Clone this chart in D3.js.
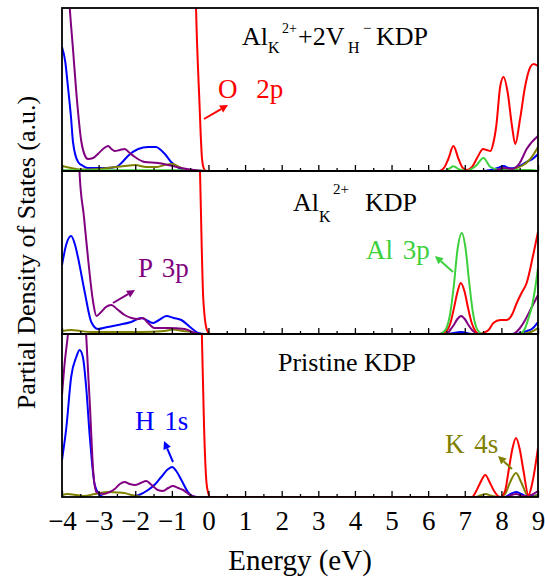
<!DOCTYPE html>
<html>
<head>
<meta charset="utf-8">
<script src="https://cdn.jsdelivr.net/npm/d3@7"></script>
<style>
  body { margin: 0; background: #fff; }
  text { font-family: "Liberation Serif", "Times New Roman", serif; }
</style>
</head>
<body>
<svg id="chart" width="545" height="577"></svg>
<script>
// Energy axis (eV)
const energyTicks = [-4, -3, -2, -1, 0, 1, 2, 3, 4, 5, 6, 7, 8, 9];
const energyMinorTicks = [-3.5, -2.5, -1.5, -0.5, 0.5, 1.5, 2.5, 3.5, 4.5, 5.5, 6.5, 7.5, 8.5];

// ---- Al_K(2+) + 2V_H(-) KDP : [energy, PDOS (a.u.)] ----
const alvhO2p = [[-4,400],[-0.45,400],[-0.34,164],[-0.25,72],[-0.175,12],[-0.12,2],[-0.05,0],[6.3,0],[6.45,4],[6.55,12],[6.69,25],[6.83,12],[6.95,3],[7.06,1],[7.2,4],[7.35,14],[7.5,22],[7.6,21],[7.7,20],[7.78,28],[7.86,45],[7.97,85],[8.06,94],[8.17,79],[8.29,45],[8.38,27],[8.51,52],[8.65,85],[8.79,104],[8.88,107],[9.0,105]];
const alvhP3p = [[-4,500],[-3.85,200],[-3.79,164],[-3.7,122],[-3.61,79],[-3.47,29],[-3.38,16],[-3.29,12],[-3.15,13],[-3.02,17],[-2.88,22],[-2.74,25],[-2.65,22],[-2.56,20],[-2.42,21],[-2.29,22],[-2.15,18],[-2.01,14],[-1.74,9],[-1.38,8],[-1.1,6],[-0.75,3],[-0.28,0.5],[0,0],[7.8,0],[8.06,3],[8.3,2],[8.5,8],[8.69,22],[9.0,35]];
const alvhH1s = [[-4,124],[-3.91,109],[-3.84,85],[-3.75,52],[-3.7,29],[-3.56,9],[-3.42,5],[-3.29,3],[-2.8,3],[-2.52,4],[-2.35,9],[-2.2,15],[-1.92,22],[-1.65,24],[-1.43,24],[-1.3,21],[-1.19,17],[-1.02,9],[-0.75,2],[-0.5,0],[7.5,0],[7.7,1],[7.9,3],[8.06,5],[8.2,3],[8.3,2.7],[8.5,5],[8.69,9],[8.85,12],[9.0,17]];
const alvhK4s = [[-4,5],[-3.75,3],[-3.5,1.5],[-3.0,2],[-2.74,3],[-2.3,5],[-2.0,6],[-1.7,4],[-1.4,4],[-1.2,6],[-0.97,7],[-0.8,4],[-0.6,1],[-0.4,0],[7.8,0],[8.06,2],[8.3,2],[8.55,5],[8.79,12],[9.0,24]];
const alvhAl3p = [[-4,0.8],[-0.5,0.8],[0,0],[6.45,0],[6.58,2.5],[6.69,4.7],[6.85,1.5],[7.05,0],[7.3,5],[7.51,13],[7.7,4],[7.9,1.5],[8.3,1],[8.8,1],[9.0,0]];

// ---- Al_K(2+) KDP ----
const alO2p = [[-4,400],[-0.4,400],[-0.23,161],[-0.14,34],[-0.04,4],[0.05,0],[6.3,0],[6.4,1],[6.5,3],[6.6,10],[6.7,25],[6.8,42],[6.89,51],[6.99,43],[7.09,26],[7.19,11],[7.29,3],[7.4,0],[7.5,1],[7.65,4],[7.78,11],[7.97,14],[8.15,14],[8.3,20],[8.42,31],[8.55,41],[8.69,51],[8.88,81],[9.0,102]];
const alP3p = [[-4,500],[-3.6,250],[-3.52,161],[-3.4,117],[-3.29,76],[-3.15,32],[-3.06,18],[-2.93,22],[-2.8,27],[-2.65,29],[-2.5,25],[-2.29,19],[-2.1,16],[-1.92,15],[-1.79,16],[-1.65,11],[-1.47,6],[-1.1,6],[-0.65,5],[-0.37,1],[-0.2,0],[6.5,0],[6.6,4],[6.7,9],[6.8,15],[6.9,18],[7.0,15],[7.1,9],[7.2,4],[7.3,1],[7.4,0],[8.3,0],[8.51,6],[8.65,14],[8.79,24],[9.0,39]];
const alH1s = [[-4,69],[-3.88,90],[-3.75,98],[-3.65,90],[-3.56,76],[-3.38,42],[-3.2,12],[-3.02,5],[-2.75,7],[-2.47,9],[-2.11,12],[-1.83,16],[-1.65,13],[-1.51,11],[-1.35,14],[-1.15,18],[-0.95,16],[-0.74,14],[-0.47,6],[-0.28,1],[-0.1,0],[6.5,0],[6.9,2],[7.2,0],[8.4,0],[8.7,3],[8.83,5],[9.0,12]];
const alK4s = [[-4,3],[-3.75,4],[-3.5,3],[-3.2,2],[-2.5,2],[-1.83,2],[-1.2,3],[-0.97,4.5],[-0.7,3],[-0.47,2],[-0.3,0],[8.5,0],[8.8,2],[9.0,6]];
const alAl3p = [[-4,0],[6.3,0],[6.4,1.5],[6.5,6],[6.6,20],[6.7,48],[6.8,84],[6.92,101],[7.02,86],[7.12,52],[7.22,22],[7.32,6],[7.42,1],[7.5,0],[8.5,0],[8.65,6],[8.75,17],[8.83,27],[8.92,45],[9.0,66]];

// ---- Pristine KDP ----
const prO2p = [[-4,400],[-0.45,400],[-0.25,250],[-0.18,162],[-0.12,70],[-0.06,17],[0,3],[0.05,0],[7.2,0],[7.3,5],[7.42,14],[7.56,22],[7.69,14],[7.8,6],[7.97,0],[8.1,6],[8.2,27],[8.3,48],[8.4,59],[8.5,48],[8.6,27],[8.74,2],[8.85,15],[9.0,49]];
const prP3p = [[-4,102],[-3.93,133],[-3.84,162],[-3.75,200],[-3.6,240],[-3.45,200],[-3.34,162],[-3.29,127],[-3.24,93],[-3.15,27],[-3.06,5],[-2.86,3],[-2.7,5],[-2.56,8],[-2.42,13],[-2.29,15],[-2.15,13],[-2.01,12],[-1.85,14],[-1.7,16],[-1.55,12],[-1.38,7],[-1.24,6],[-1.1,9],[-0.97,11],[-0.83,9],[-0.69,7],[-0.5,2],[-0.35,0],[8.1,0],[8.4,3],[8.6,1],[8.8,2],[9.0,6]];
const prH1s = [[-4,37],[-3.88,70],[-3.75,120],[-3.61,140],[-3.52,147],[-3.43,140],[-3.34,110],[-3.24,60],[-3.11,13],[-2.97,2],[-2.85,0],[-2.2,0],[-1.9,2],[-1.65,7],[-1.45,13],[-1.29,20],[-1.1,28],[-0.99,30],[-0.88,26],[-0.74,17],[-0.56,5],[-0.45,1],[-0.3,0],[8.1,0],[8.25,3],[8.4,5],[8.55,3],[8.7,0.5],[9.0,2]];
const prK4s = [[-4,2],[-3.85,3],[-3.6,2],[-3.4,1],[-3.1,3],[-2.74,5],[-2.5,4.5],[-2.3,4],[-2.1,2],[-1.95,1],[-1.7,0],[7.3,0],[7.56,3],[7.75,1],[7.97,0],[8.1,3],[8.24,15],[8.4,24],[8.55,14],[8.7,2],[8.8,0],[9.0,2]];

const colors = { O: "#ff0000", P: "#800080", H: "#0000ff", K: "#808000", Al: "#3dd03d" };

// series listed in drawing order (last one on top)
const panels = [
  { id: "alvh", series: [["H", alvhH1s], ["K", alvhK4s], ["O", alvhO2p], ["Al", alvhAl3p], ["P", alvhP3p]] },
  { id: "al",   series: [["H", alH1s], ["K", alK4s], ["P", alP3p], ["O", alO2p], ["Al", alAl3p]] },
  { id: "pr",   series: [["H", prH1s], ["K", prK4s], ["P", prP3p], ["O", prO2p]] }
];

const svg = d3.select("#chart");
const plotLeft = 62, plotRight = 538, plotTop = 8, plotBottom = 497;
const panelH = (plotBottom - plotTop) / panels.length;

const x = d3.scaleLinear().domain([-4, 9]).range([plotLeft, plotRight]);

const defs = svg.append("defs");

panels.forEach((p, i) => {
  const y0 = plotTop + i * panelH, y1 = y0 + panelH;
  const y = d3.scaleLinear().domain([0, 163]).range([y1, y0]);

  defs.append("clipPath").attr("id", "clip-" + p.id)
    .append("rect").attr("x", plotLeft).attr("y", y0).attr("width", plotRight - plotLeft).attr("height", panelH);

  const g = svg.append("g");
  const line = d3.line().x(d => x(d[0])).y(d => y(d[1])).curve(d3.curveMonotoneX);

  const lines = g.append("g").attr("clip-path", `url(#clip-${p.id})`);
  p.series.forEach(([key, values]) => {
    lines.append("path").datum(values)
      .attr("d", line)
      .attr("fill", "none")
      .attr("stroke", colors[key])
      .attr("stroke-width", 2)
      .attr("stroke-linejoin", "round");
  });

  // ticks on the bottom edge of each panel, pointing inward
  const last = i === panels.length - 1;
  const axis = g.append("g").attr("transform", `translate(0,${y1})`)
    .call(d3.axisBottom(x).tickValues(energyTicks).tickSizeInner(-6).tickSizeOuter(0)
      .tickPadding(14).tickFormat(last ? (d => d < 0 ? "\u2212" + Math.abs(d) : String(d)) : () => ""));
  axis.select(".domain").remove();
  axis.selectAll("line").attr("stroke", "#000").attr("stroke-width", 1.3);
  axis.selectAll("text").attr("font-size", 27).attr("fill", "#000")
    .style("font-family", '"Liberation Serif", serif');

  const minor = g.append("g").attr("transform", `translate(0,${y1})`)
    .call(d3.axisBottom(x).tickValues(energyMinorTicks).tickSizeInner(-3).tickSizeOuter(0).tickFormat(() => ""));
  minor.select(".domain").remove();
  minor.selectAll("line").attr("stroke", "#000").attr("stroke-width", 1.3);

  g.append("rect").attr("x", plotLeft).attr("y", y0).attr("width", plotRight - plotLeft).attr("height", panelH)
    .attr("fill", "none").attr("stroke", "#000").attr("stroke-width", 1.8);
});

// panel titles
const t1 = svg.append("text").attr("fill", "#000");
t1.append("tspan").attr("x", 242).attr("y", 45).attr("font-size", 26).text("Al");
t1.append("tspan").attr("x", 268).attr("y", 53).attr("font-size", 16).text("K");
t1.append("tspan").attr("x", 282).attr("y", 33).attr("font-size", 14).text("2+");
t1.append("tspan").attr("x", 298).attr("y", 45).attr("font-size", 26).text("+2V");
t1.append("tspan").attr("x", 348).attr("y", 53).attr("font-size", 16).text("H");
t1.append("tspan").attr("x", 363).attr("y", 33).attr("font-size", 15).text("\u2212");
t1.append("tspan").attr("x", 376).attr("y", 45).attr("font-size", 26).text("KDP");

const t2 = svg.append("text").attr("fill", "#000");
t2.append("tspan").attr("x", 293).attr("y", 211).attr("font-size", 26).text("Al");
t2.append("tspan").attr("x", 319).attr("y", 222).attr("font-size", 16).text("K");
t2.append("tspan").attr("x", 333).attr("y", 194).attr("font-size", 15).text("2+");
t2.append("tspan").attr("x", 365).attr("y", 211).attr("font-size", 26).text("KDP");

svg.append("text").attr("x", 278).attr("y", 371).attr("font-size", 26).attr("fill", "#000").text("Pristine KDP");

// orbital labels with arrows
const labels = [
  { key: "O",  text: "O 2p",  x: 218, y: 98,  gap: 12, from: [204, 119], to: [228, 105] },
  { key: "P",  text: "P 3p",  x: 138, y: 277, gap: 3,  from: [113, 303], to: [135, 290] },
  { key: "Al", text: "Al 3p", x: 366, y: 259, gap: 3,  from: [453, 272], to: [435, 256] },
  { key: "H",  text: "H 1s",  x: 135, y: 430, gap: 3,  from: [173, 462], to: [164, 441] },
  { key: "K",  text: "K 4s",  x: 445, y: 453, gap: 3,  from: [512, 469], to: [498, 456] }
];

labels.forEach(l => {
  const c = colors[l.key];
  svg.append("text").attr("x", l.x).attr("y", l.y).attr("font-size", 27)
    .attr("fill", c).style("word-spacing", l.gap + "px").text(l.text);
  const [xa, ya] = l.from, [xb, yb] = l.to;
  const ang = Math.atan2(yb - ya, xb - xa);
  const len = 8, half = 4;
  const bx = xb - len * Math.cos(ang), by = yb - len * Math.sin(ang);
  svg.append("line").attr("x1", xa).attr("y1", ya).attr("x2", bx).attr("y2", by)
    .attr("stroke", c).attr("stroke-width", 2);
  const px = -Math.sin(ang), py = Math.cos(ang);
  svg.append("path")
    .attr("d", `M${xb},${yb}L${bx + half * px},${by + half * py}L${bx - half * px},${by - half * py}Z`)
    .attr("fill", c);
});

// axis titles
svg.append("text").attr("transform", `translate(35,${(plotTop + plotBottom) / 2}) rotate(-90)`)
  .attr("text-anchor", "middle").attr("font-size", 26).attr("fill", "#000")
  .text("Partial Density of States (a.u.)");

svg.append("text").attr("x", (plotLeft + plotRight) / 2).attr("y", 570)
  .attr("text-anchor", "middle").attr("font-size", 29).attr("fill", "#000")
  .text("Energy (eV)");
</script>
</body>
</html>
